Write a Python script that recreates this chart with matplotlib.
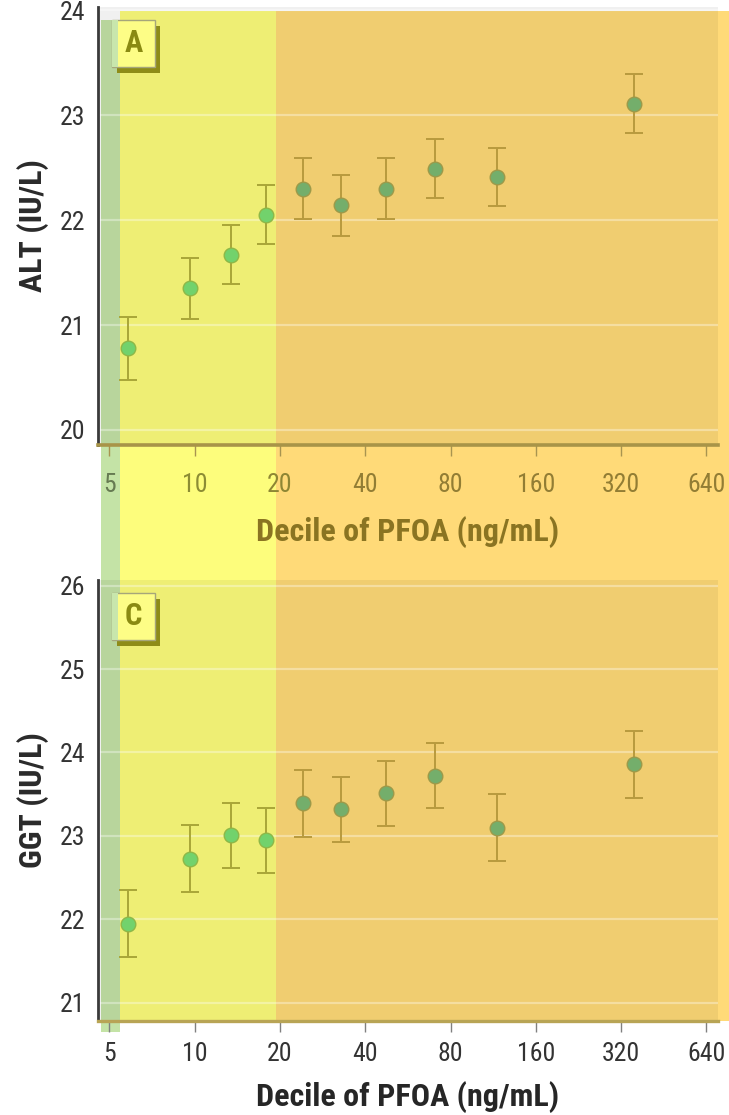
import matplotlib
matplotlib.use("Agg")
import logging
logging.getLogger('matplotlib.font_manager').setLevel(logging.ERROR)
import matplotlib.pyplot as plt
from matplotlib.patches import Rectangle
from matplotlib.transforms import blended_transform_factory

plt.rcParams['font.family'] = ['Roboto Condensed', 'Archivo Narrow', 'PT Sans Narrow',
                               'Liberation Sans Narrow', 'Sofia Sans Condensed', 'DejaVu Sans']

# ---- data ----
pfoa_x = [5.8, 9.6, 13.4, 17.8, 24.1, 32.9, 47.2, 70.5, 116.7, 355]
alt_mean = [20.78, 21.35, 21.67, 22.05, 22.30, 22.14, 22.30, 22.49, 22.41, 23.11]
alt_err = [0.30, 0.29, 0.28, 0.28, 0.29, 0.29, 0.29, 0.28, 0.28, 0.28]
ggt_mean = [21.95, 22.73, 23.01, 22.95, 23.39, 23.32, 23.51, 23.72, 23.10, 23.86]
ggt_err = [0.40, 0.40, 0.39, 0.39, 0.40, 0.39, 0.39, 0.39, 0.40, 0.40]
xticks = [5, 10, 20, 40, 80, 160, 320, 640]
xtick_labels = ['5', '10', '20', '40', '80', '160', '320', '640']
alt_ticks = [20, 21, 22, 23, 24]
ggt_ticks = [21, 22, 23, 24, 25, 26]
# shaded zones (ng/mL)
green_zone = (4.68, 5.46)
yellow_zone = (5.46, 19.3)
orange_zone = (19.3, 780)

W, H = 729, 1115
fig = plt.figure(figsize=(W / 100, H / 100), dpi=100)
fig.patch.set_facecolor('white')

ax1 = fig.add_axes([98 / W, 1 - 445 / H, 620 / W, 438 / H])
ax2 = fig.add_axes([98 / W, 1 - 1021 / H, 620 / W, 441 / H])

for ax in (ax1, ax2):
    ax.set_facecolor((0, 0, 0, 0.06))
    ax.set_xscale('log', base=2)
    ax.set_xlim(4.56, 703)
    ax.set_xticks(xticks)
    ax.set_xticklabels(xtick_labels)
    ax.minorticks_off()
    for s in ('top', 'right'):
        ax.spines[s].set_visible(False)
    ax.spines['left'].set_color('#3a3a3a')
    ax.spines['left'].set_linewidth(2.0)
    ax.grid(axis='y', color='white', alpha=0.35, lw=1.6)
    ax.set_axisbelow(True)
    ax.tick_params(axis='y', length=0, pad=9, labelsize=18.5, labelcolor='#333333')
    ax.tick_params(axis='x', length=8, width=1, labelsize=18.5)

ax1.set_ylim(19.857, 24.03)
ax1.set_yticks(alt_ticks)
ax2.set_ylim(20.784, 26.066)
ax2.set_yticks(ggt_ticks)

# shading behind axes (figure-level, x in data coords)
trans = blended_transform_factory(ax1.transData, fig.transFigure)
zones = [(yellow_zone, '#FDFD7C', 1 - 11 / H, 1 - 1021 / H),
         (orange_zone, '#FFDA78', 1 - 11 / H, 1 - 1021 / H),
         (green_zone, '#C4E3A6', 1 - 20 / H, 1 - 1032 / H)]
for (x0, x1), col, ytop, ybot in zones:
    r = Rectangle((x0, ybot), x1 - x0, ytop - ybot, transform=trans,
                  facecolor=col, edgecolor='none', zorder=-1)
    fig.add_artist(r)

# top panel axis under overlay colors
ax1.spines['bottom'].set_color('#A89448')
ax1.spines['bottom'].set_linewidth(2.6)
ax1.tick_params(axis='x', color='#A89450', pad=12)
top_label_cols = ['#667A52', '#8C8C34', '#8E8634', '#927D34', '#927D34', '#927D34', '#927D34', '#927D34']
for lbl, c in zip(ax1.get_xticklabels(), top_label_cols):
    lbl.set_color(c)
ax2.spines['bottom'].set_color('#B8A455')
ax2.spines['bottom'].set_linewidth(2.4)
ax2.tick_params(axis='x', color='#808080', pad=7, labelcolor='#333333')

ax1.set_xlabel('Decile of PFOA (ng/mL)', fontsize=23, fontweight='bold', color='#8A7422', labelpad=14)
ax2.set_xlabel('Decile of PFOA (ng/mL)', fontsize=23, fontweight='bold', color='#262626', labelpad=11)
ax1.set_ylabel('ALT (IU/L)', fontsize=23, fontweight='bold', color='#2a2a2a', labelpad=8)
ax2.set_ylabel('GGT (IU/L)', fontsize=23, fontweight='bold', color='#2a2a2a', labelpad=8)

# data
def draw(ax, means, errs):
    for x, m, e in zip(pfoa_x, means, errs):
        inside = x < yellow_zone[1]
        ecol = '#A9A638' if inside else '#B89A3E'
        fcol = '#72D26C' if inside else '#74AE6B'
        mec = '#8DB848' if inside else '#9C9A4A'
        ax.errorbar([x], [m], yerr=[e], fmt='none', ecolor=ecol, elinewidth=1.4,
                    capsize=6.5, capthick=1.4, zorder=3)
        ax.plot([x], [m], 'o', ms=10.5, mfc=fcol, mec=mec, mew=1.0, zorder=4)

draw(ax1, alt_mean, alt_err)
draw(ax2, ggt_mean, ggt_err)

# panel labels
for ax, letter in ((ax1, 'A'), (ax2, 'C')):
    bb = ax.get_position()
    ax_h_px = bb.height * H
    ax_w_px = bb.width * W
    x0 = 14 / ax_w_px
    y1 = 1 - 13 / ax_h_px
    bw = 43 / ax_w_px
    bh = 47 / ax_h_px
    sh = Rectangle((x0 + 5 / ax_w_px, y1 - bh - 6 / ax_h_px), bw, bh, transform=ax.transAxes,
                   facecolor='#8E8C18', edgecolor='none', zorder=6, clip_on=False)
    bx = Rectangle((x0, y1 - bh), bw, bh, transform=ax.transAxes,
                   facecolor='#FDFD86', edgecolor='#A6A67A', lw=1.0, zorder=7, clip_on=False)
    # green overlay on the part of the box lying in the green zone
    gx = Rectangle((x0, y1 - bh), (6 / ax_w_px), bh, transform=ax.transAxes,
                   facecolor='#C8E6AC', edgecolor='none', zorder=7.5, clip_on=False)
    ax.add_patch(sh)
    ax.add_patch(bx)
    ax.add_patch(gx)
    ax.text(x0 + bw / 2, y1 - bh / 2, letter, transform=ax.transAxes, ha='center', va='center',
            fontsize=22, fontweight='bold', color='#8A8A12', zorder=8)

fig.savefig('out.png', dpi=100)
